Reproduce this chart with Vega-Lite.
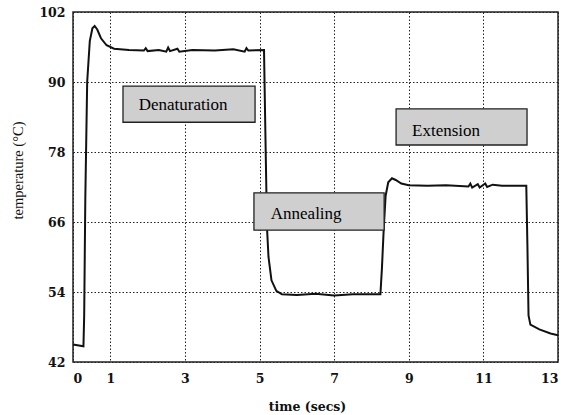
{
  "$schema": "https://vega.github.io/schema/vega-lite/v6.json",
  "width": 485,
  "height": 350,
  "autosize": "none",
  "padding": {"left": 73, "top": 12, "right": 14, "bottom": 53},
  "background": "white",
  "config": {
    "view": {"stroke": "#222", "strokeWidth": 1.5},
    "font": "Liberation Serif"
  },
  "datasets": {
    "curve": [
      {"t": 0.0, "temp": 45.0}, {"t": 0.28, "temp": 44.7}, {"t": 0.30, "temp": 50},
      {"t": 0.33, "temp": 70}, {"t": 0.38, "temp": 90}, {"t": 0.45, "temp": 97},
      {"t": 0.52, "temp": 99.2}, {"t": 0.58, "temp": 99.6}, {"t": 0.65, "temp": 99.0},
      {"t": 0.75, "temp": 97.5}, {"t": 0.9, "temp": 96.3}, {"t": 1.1, "temp": 95.7},
      {"t": 1.5, "temp": 95.5}, {"t": 1.9, "temp": 95.4}, {"t": 1.95, "temp": 95.8},
      {"t": 2.0, "temp": 95.3}, {"t": 2.3, "temp": 95.5}, {"t": 2.5, "temp": 95.2},
      {"t": 2.55, "temp": 95.9}, {"t": 2.6, "temp": 95.3}, {"t": 2.8, "temp": 95.7},
      {"t": 2.85, "temp": 95.2}, {"t": 3.2, "temp": 95.5}, {"t": 3.8, "temp": 95.4},
      {"t": 4.3, "temp": 95.6}, {"t": 4.6, "temp": 95.2}, {"t": 4.65, "temp": 95.8},
      {"t": 4.7, "temp": 95.4}, {"t": 5.12, "temp": 95.5},
      {"t": 5.16, "temp": 80}, {"t": 5.2, "temp": 65}, {"t": 5.24, "temp": 60},
      {"t": 5.32, "temp": 56}, {"t": 5.45, "temp": 54.2}, {"t": 5.6, "temp": 53.6},
      {"t": 6.0, "temp": 53.5}, {"t": 6.5, "temp": 53.7}, {"t": 7.0, "temp": 53.4},
      {"t": 7.5, "temp": 53.6}, {"t": 8.24, "temp": 53.6},
      {"t": 8.28, "temp": 58}, {"t": 8.33, "temp": 65}, {"t": 8.38, "temp": 70.5},
      {"t": 8.45, "temp": 72.8}, {"t": 8.55, "temp": 73.5}, {"t": 8.65, "temp": 73.2},
      {"t": 8.8, "temp": 72.6}, {"t": 9.0, "temp": 72.3}, {"t": 9.5, "temp": 72.2},
      {"t": 10.0, "temp": 72.3}, {"t": 10.6, "temp": 72.1}, {"t": 10.65, "temp": 72.6},
      {"t": 10.7, "temp": 71.9}, {"t": 10.85, "temp": 72.5}, {"t": 10.9, "temp": 71.9},
      {"t": 11.05, "temp": 72.6}, {"t": 11.1, "temp": 72.0}, {"t": 11.25, "temp": 72.4},
      {"t": 11.5, "temp": 72.2}, {"t": 12.15, "temp": 72.2},
      {"t": 12.18, "temp": 62}, {"t": 12.21, "temp": 50}, {"t": 12.26, "temp": 48.4},
      {"t": 12.5, "temp": 47.6}, {"t": 12.8, "temp": 46.9}, {"t": 13.0, "temp": 46.6}
    ],
    "boxes": [
      {"label": "Denaturation", "x1": 1.34, "x2": 4.88, "y1": 83.1, "y2": 89.3, "tx": 2.95, "ty": 86.0},
      {"label": "Annealing", "x1": 4.85, "x2": 8.34, "y1": 64.6, "y2": 71.0, "tx": 6.25, "ty": 67.4},
      {"label": "Extension", "x1": 8.66, "x2": 12.17, "y1": 79.2, "y2": 85.4, "tx": 10.0, "ty": 81.6}
    ]
  },
  "layer": [
    {
      "data": {"name": "curve"},
      "mark": {"type": "line", "color": "#111", "strokeWidth": 2, "interpolate": "linear"},
      "encoding": {
        "x": {
          "field": "t", "type": "quantitative",
          "scale": {"domain": [0, 13], "nice": false, "zero": false},
          "axis": {
            "values": [0, 1, 3, 5, 7, 9, 11, 13],
            "title": "time (secs)",
            "titleFont": "DejaVu Serif", "titleFontSize": 12.5, "titleFontWeight": "bold",
            "titleColor": "#111", "titlePadding": 16, "titleX": 234,
            "labelFont": "DejaVu Serif", "labelFontSize": 12.5, "labelFontWeight": "bold",
            "labelColor": "#111", "labelPadding": 10,
            "ticks": false, "domain": false,
            "grid": true, "gridColor": "#222", "gridDash": [1.5, 2], "gridWidth": 1
          }
        },
        "y": {
          "field": "temp", "type": "quantitative",
          "scale": {"domain": [42, 102], "nice": false, "zero": false},
          "axis": {
            "values": [42, 48, 54, 60, 66, 72, 78, 84, 90, 96, 102],
            "labelExpr": "(datum.value - 42) % 12 == 0 ? datum.label : ''",
            "title": "temperature (°C)",
            "titleFont": "Liberation Serif", "titleFontSize": 14.5, "titleFontWeight": "normal",
            "titleColor": "#111", "titlePadding": 13, "titleY": 158,
            "labelFont": "DejaVu Serif", "labelFontSize": 12.5, "labelFontWeight": "bold",
            "labelColor": "#111", "labelPadding": 8,
            "ticks": false, "domain": false,
            "grid": true, "gridColor": "#222", "gridDash": [1.5, 2], "gridWidth": 1
          }
        }
      }
    },
    {
      "data": {"name": "boxes"},
      "mark": {"type": "rect", "fill": "#cfcfcf", "stroke": "#222", "strokeWidth": 1.3},
      "encoding": {
        "x": {"field": "x1", "type": "quantitative"},
        "x2": {"field": "x2"},
        "y": {"field": "y1", "type": "quantitative"},
        "y2": {"field": "y2"}
      }
    },
    {
      "data": {"name": "boxes"},
      "mark": {"type": "text", "font": "Liberation Serif", "fontSize": 17, "fontWeight": "normal", "color": "#000", "align": "center", "baseline": "middle"},
      "encoding": {
        "x": {"field": "tx", "type": "quantitative"},
        "y": {"field": "ty", "type": "quantitative"},
        "text": {"field": "label"}
      }
    }
  ]
}
